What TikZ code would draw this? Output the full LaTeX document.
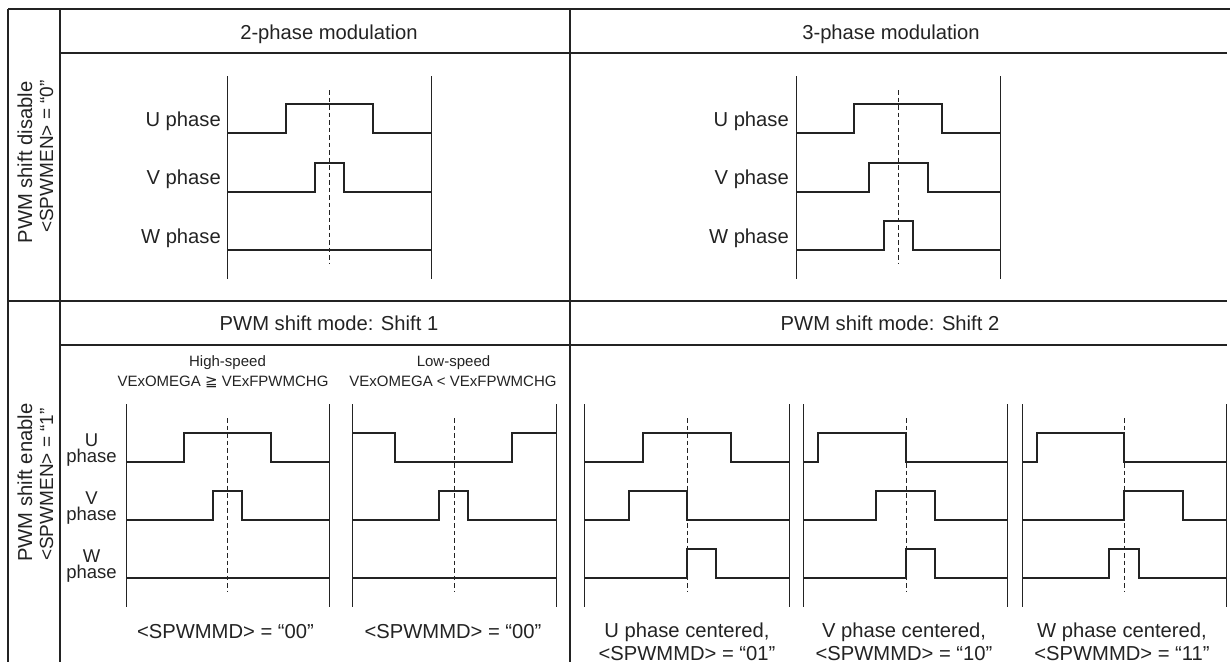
\documentclass[tikz,border=0pt]{standalone}
\usepackage{fontspec}
\setmainfont{Liberation Sans}
\newfontfamily\symfont{DejaVu Sans}
\definecolor{ink}{RGB}{35,35,35}
\newcommand\wpulse[6]{\draw[wave] (#1,#3) -| (#5,#4) -| (#6,#3) -- (#2,#3);}
\newcommand\wflat[3]{\draw[wave] (#1,#3) -- (#2,#3);}
\newcommand\wbars[6]{%
  \draw[bar] (#1,#4) -- (#1,#5);
  \draw[bar] (#2,#4) -- (#2,#5);
  \draw[dashline] (#3,#4+14) -- (#3,#5-15);}
\begin{document}
\begin{tikzpicture}[x=1pt,y=-1pt,
  grid/.style={draw=ink,line width=1.4pt},
  wave/.style={draw=ink,line width=2pt,line join=miter},
  bar/.style={draw=ink,line width=1pt},
  dashline/.style={draw=ink,line width=0.9pt,dash pattern=on 4.5pt off 3pt},
  big/.style={text=ink,font=\fontsize{20.2}{22}\selectfont,inner sep=0pt},
  side/.style={text=ink,font=\fontsize{19}{21}\selectfont,inner sep=0pt},
  mid/.style={text=ink,font=\fontsize{18.5}{16.5}\selectfont,inner sep=0pt,align=center},
  small/.style={text=ink,font=\fontsize{15}{16}\selectfont,inner sep=0pt}]
\useasboundingbox (0,0) rectangle (1230,662);
% table grid
\draw[grid] (8,9) -- (1230,9);
\draw[grid] (8,9) -- (8,662);
\draw[grid] (60,9) -- (60,662);
\draw[grid] (570,9) -- (570,662);
\draw[grid] (60,53) -- (1227,53);
\draw[grid] (8,301) -- (1227,301);
\draw[grid] (60,345) -- (1227,345);
% side labels
\node[big,rotate=90,anchor=base] (sd1) at (32,162.5) {PWM shift disable};
\node[side,rotate=90,anchor=base] (sd2) at (53,156.5) {<SPWMEN> = “0”};
\node[big,rotate=90,anchor=base] (se1) at (32,482.5) {PWM shift enable};
\node[side,rotate=90,anchor=base] (se2) at (53,484.5) {<SPWMEN> = “1”};
% headers
\node[big,anchor=base] (h2p) at (329,39) {2-phase modulation};
\node[big,anchor=base] (h3p) at (891,39) {3-phase modulation};
\node[big,anchor=base] (hs1) at (329,330) {PWM shift mode: Shift 1};
\node[big,anchor=base] (hs2) at (890,330) {PWM shift mode: Shift 2};
% ---------- top 2-phase
\wbars{227}{431}{329}{76}{279}{}
\wpulse{227}{431}{133}{104}{286}{373}
\wpulse{227}{431}{192}{163}{315}{344}
\wflat{227}{431}{250}
\node[big,anchor=base east] (tu2) at (221,126) {U phase};
\node[big,anchor=base east] (tv2) at (221,184) {V phase};
\node[big,anchor=base east] (tw2) at (221,243) {W phase};
% ---------- top 3-phase
\wbars{796}{1000}{898}{76}{279}{}
\wpulse{796}{1000}{133}{104}{854}{942}
\wpulse{796}{1000}{192}{163}{869}{928}
\wpulse{796}{1000}{250}{221}{884}{913}
\node[big,anchor=base east] (tu3) at (789,126) {U phase};
\node[big,anchor=base east] (tv3) at (789,184) {V phase};
\node[big,anchor=base east] (tw3) at (789,243) {W phase};
% ---------- bottom phase labels
\node[mid,anchor=south] (bu) at (91.5,467) {U\\phase};
\node[mid,anchor=south] (bv) at (91.5,525) {V\\phase};
\node[mid,anchor=south] (bw) at (91.5,583) {W\\phase};
% ---------- shift 1 high speed
\node[small,anchor=base] (hs) at (227.5,366) {High-speed};
\node[small,anchor=base] (hsc) at (223,386) {VExOMEGA {\symfont ≧} VExFPWMCHG};
\wbars{126}{329}{227}{404}{607}{}
\wpulse{126}{329}{462}{433}{184}{271}
\wpulse{126}{329}{520}{491}{213}{242}
\wflat{126}{329}{578}
\node[big,anchor=base] (m1) at (225.5,638) {<SPWMMD> = “00”};
% ---------- shift 1 low speed
\node[small,anchor=base] (ls) at (453.5,366) {Low-speed};
\node[small,anchor=base] (lsc) at (453,386) {VExOMEGA < VExFPWMCHG};
\wbars{352}{556}{454}{404}{607}{}
\draw[wave] (352,433) -| (395,462) -| (512,433) -- (556,433);
\wpulse{352}{556}{520}{491}{439}{468}
\wflat{352}{556}{578}
\node[big,anchor=base] (m2) at (453,638) {<SPWMMD> = “00”};
% ---------- shift 2 U centered
\wbars{584}{789}{687}{404}{607}{}
\wpulse{584}{789}{462}{433}{643}{731}
\wpulse{584}{789}{520}{491}{629}{687}
\wpulse{584}{789}{578}{549}{687}{716}
\node[big,anchor=base] (ca1) at (687,637) {U phase centered,};
\node[big,anchor=base] (ca2) at (687,660) {<SPWMMD> = “01”};
% ---------- shift 2 V centered
\wbars{803}{1007}{906}{404}{607}{}
\wpulse{803}{1007}{462}{433}{818}{906}
\wpulse{803}{1007}{520}{491}{876}{935}
\wpulse{803}{1007}{578}{549}{906}{935}
\node[big,anchor=base] (cb1) at (904,637) {V phase centered,};
\node[big,anchor=base] (cb2) at (904,660) {<SPWMMD> = “10”};
% ---------- shift 2 W centered
\wbars{1022}{1226}{1124}{404}{607}{}
\wpulse{1022}{1226}{462}{433}{1037}{1124}
\wpulse{1022}{1226}{520}{491}{1124}{1183}
\wpulse{1022}{1226}{578}{549}{1109}{1139}
\node[big,anchor=base] (cc1) at (1122,637) {W phase centered,};
\node[big,anchor=base] (cc2) at (1122,660) {<SPWMMD> = “11”};
\end{tikzpicture}
\end{document}
